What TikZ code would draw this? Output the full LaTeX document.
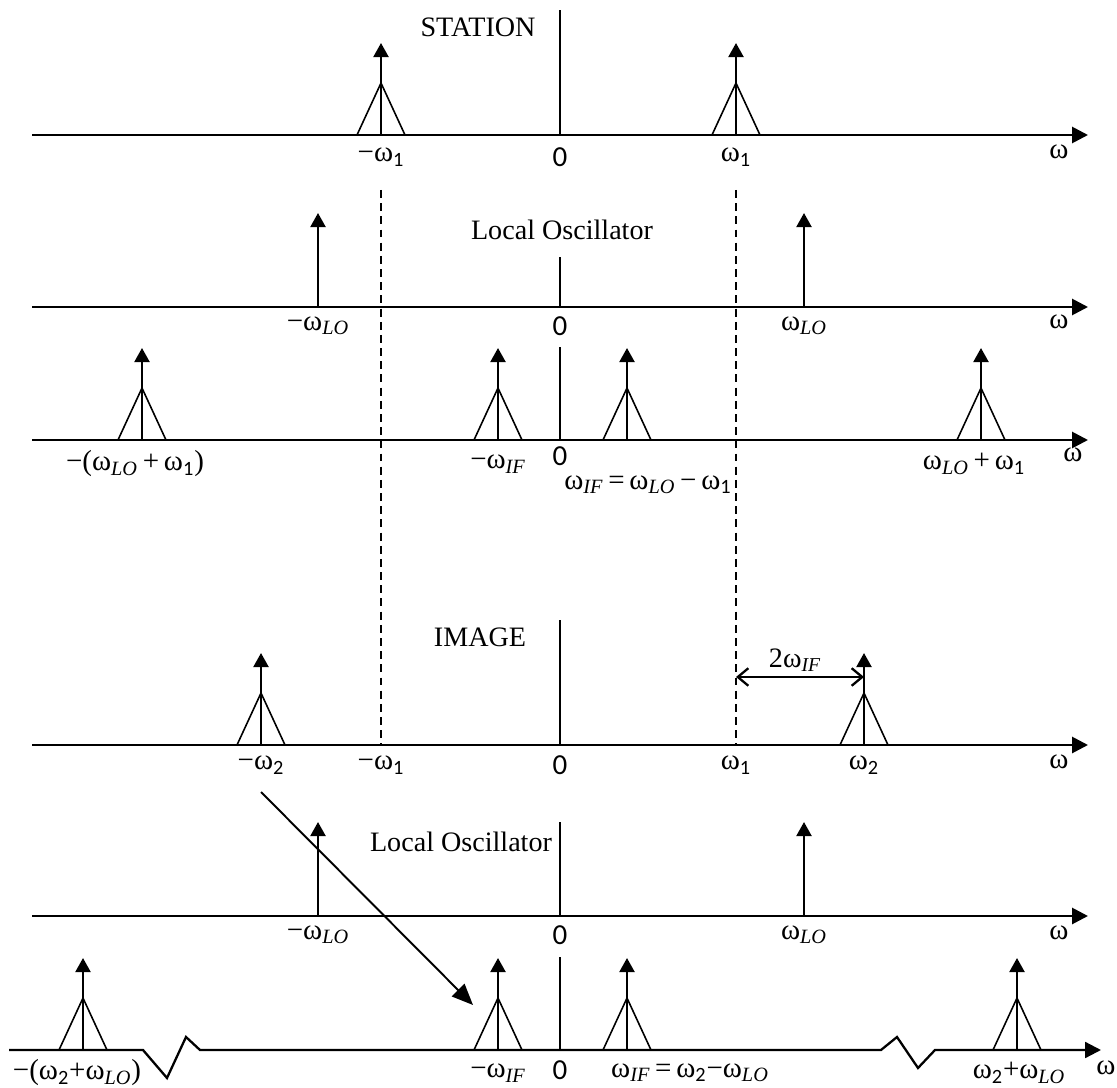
\documentclass[tikz,border=0pt]{standalone}
\usepackage{fontspec}
\setmainfont{Liberation Serif}
\newfontfamily\symfont{Carlito}
\usetikzlibrary{arrows.meta}
\newcommand{\sLO}{\textsubscript{\itshape LO}}
\newcommand{\sIF}{\textsubscript{\itshape IF}}
\newcommand{\sN}[1]{\textsubscript{\symfont #1}}

\begin{document}
\begin{tikzpicture}[x=0.02cm,y=-0.02cm,>=Latex,
    axis/.style={line width=1.6pt,-{Triangle[length=9pt,width=9pt]}},
    stem/.style={line width=1.4pt,-{Triangle[length=8pt,width=8.5pt]}},
    tri/.style={line width=0.9pt},
    zero/.style={line width=0.8pt},
    guide/.style={line width=0.7pt,dash pattern=on 4.5pt off 3pt},
    lab/.style={inner sep=0pt,font=\rmfamily\fontsize{16.5}{18}\selectfont},
    title/.style={inner sep=0pt,font=\rmfamily\fontsize{16}{18}\selectfont}]
    \useasboundingbox (0,0) rectangle (1117,1088);

    \foreach \y in {135,307,440,745,916}
      \draw[axis] (32,\y) -- (1088,\y);
    \draw[line width=1.3pt,-{Triangle[length=9pt,width=9pt]}] (9,1050) -- (143,1050) -- (167,1078) -- (186,1037) -- (200,1050)
      -- (881,1050) -- (897,1037) -- (918,1068) -- (935,1050) -- (1101,1050);

    \foreach \y/\t in {135/10,307/257,440/347,745/620,916/822,1050/957}
      \draw[zero] (560,\y) -- (560,\t);

    \draw[guide] (381,190) -- (381,745);
    \draw[guide] (736,190) -- (736,745);

    \foreach \x/\y in {381/135,736/135,142/440,498/440,627/440,981/440,261/745,864/745,83/1050,498/1050,627/1050,1017/1050}
    {
      \draw[tri] (\x-24,\y) -- (\x,\y-52) -- (\x+24,\y);
      \draw[stem] (\x,\y) -- (\x,\y-92);
    }
    \foreach \x/\y in {318/307,804/307,318/916,804/916}
      \draw[stem] (\x,\y) -- (\x,\y-94);

    \node[title] (station) at (478,27) {STATION};
    \node[title] (lo1) at (562,230) {Local Oscillator};
    \node[title] (image) at (480,637) {IMAGE};
    \node[title] (lo2) at (461,842) {Local Oscillator};

    \node[lab] (a1) at (381,157) {−ω\sN{1}};
    \node[lab] (a0) at (560,157) {\symfont 0};
    \node[lab] (a2) at (736,157) {ω\sN{1}};
    \node[lab] (aw) at (1059,152) {ω};

    \node[lab] (b1) at (318,326) {−ω\sLO};
    \node[lab] (b0) at (560,326) {\symfont 0};
    \node[lab] (b2) at (804,326) {ω\sLO};
    \node[lab] (bw) at (1059,322) {ω};

    \node[lab] (c1) at (135,464) {−(ω\sLO\,+\,ω\sN{1})};
    \node[lab] (c2) at (498,464) {−ω\sIF};
    \node[lab] (c0) at (560,456) {\symfont 0};
    \node[lab] (c3) at (648,485) {ω\sIF\,=\,ω\sLO\,−\,ω\sN{1}};
    \node[lab] (c4) at (974,464) {ω\sLO\,+\,ω\sN{1}};
    \node[lab] (cw) at (1073,455) {ω};

    \node[lab] (d1) at (261,765) {−ω\sN{2}};
    \node[lab] (d2) at (381,765) {−ω\sN{1}};
    \node[lab] (d0) at (560,765) {\symfont 0};
    \node[lab] (d3) at (736,765) {ω\sN{1}};
    \node[lab] (d4) at (864,765) {ω\sN{2}};
    \node[lab] (dw) at (1059,762) {ω};
    \node[title] (gap) at (795,660) {2ω\sIF};

    \node[lab] (e1) at (318,935) {−ω\sLO};
    \node[lab] (e0) at (560,935) {\symfont 0};
    \node[lab] (e2) at (804,935) {ω\sLO};
    \node[lab] (ew) at (1059,933) {ω};

    \node[lab] (f1) at (77,1073) {−(ω\sN{2}+ω\sLO)};
    \node[lab] (f2) at (498,1073) {−ω\sIF};
    \node[lab] (f0) at (560,1070) {\symfont 0};
    \node[lab] (f3) at (690,1073) {ω\sIF\,=\,ω\sN{2}−ω\sLO};
    \node[lab] (f4) at (1019,1073) {ω\sN{2}+ω\sLO};
    \node[lab] (fw) at (1106,1068) {ω};

    \coordinate (gl) at (736,677);
    \coordinate (gr) at (864,677);
    \draw[line width=1.3pt,{Straight Barb[length=6pt,width=10pt]}-{Straight Barb[length=6pt,width=10pt]}] (gl) -- (gr);

    \coordinate (from) at (261,792);
    \coordinate (to) at (473,1005);
    \draw[line width=1.1pt,-{Triangle[length=12pt,width=10pt]}] (from) -- (to);
  \end{tikzpicture}
\end{document}
